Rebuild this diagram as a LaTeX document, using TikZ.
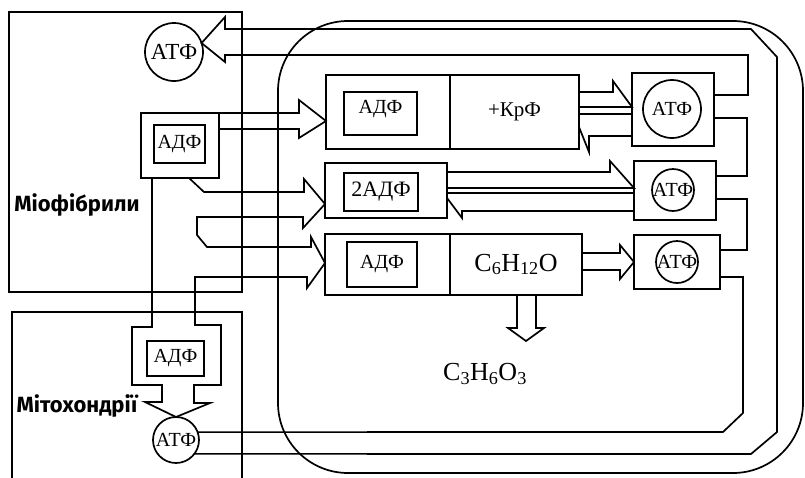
\documentclass[tikz,border=0pt]{standalone}
\usepackage{fontspec}
\setmainfont{Liberation Serif}
\newfontfamily\lblfont{Fira Sans}
\usetikzlibrary{positioning}

\begin{document}
\begin{tikzpicture}[
    x=1pt, y=-1pt,
    line width=1.7pt,
    box/.style={draw, rectangle, inner sep=0pt, outer sep=0pt,
                font=\fontsize{20}{22}\selectfont},
    ring/.style={draw, circle, inner sep=0pt, outer sep=0pt,
                 font=\fontsize{20}{22}\selectfont},
    lbl/.style={font=\lblfont\bfseries\fontsize{22}{24}\selectfont},
    chem/.style={font=\fontsize{26}{28}\selectfont}
]
\clip (0,0) rectangle (805,477);

% cell outline
\node[box, rounded corners=70pt, minimum width=525pt, minimum height=452pt]
    (cell) at (540.5,247) {};

% left part
\node[box, minimum width=233pt, minimum height=280pt] (myo) at (125.5,152) {};
\node[box, minimum width=230pt, minimum height=188pt] (mito) at (127,406) {};
\node[lbl] (myoLbl) at (77,205) {Міофібрили};
\node[lbl] (mitoLbl) at (77,406) {Мітохондрії};

\node[ring, minimum size=58pt, font=\fontsize{23}{24}\selectfont]
    (atfT) at (174,52) {\makebox[0pt]{АТФ}};
\node[box, minimum width=78pt, minimum height=65pt] (adfO) at (180,145.5) {};
\node[box, minimum width=51pt, minimum height=38pt] (adfL) at (179.5,144) {АДФ};
\node[box, minimum width=57pt, minimum height=35pt] (mitoAdf) at (175.5,358.5) {АДФ};
\node[ring, minimum size=46pt] (atfB) at (176,440) {\makebox[0pt]{АТФ}};

% middle boxes
\node[box, minimum width=124pt, minimum height=74pt] (rAl) at (388,112) {};
\node[box, minimum width=129pt, minimum height=74pt, font=\fontsize{21}{22}\selectfont]
    (rAr) at (514.5,112) {+КрФ};
\node[box, minimum width=73pt, minimum height=43pt, text height=12pt, text depth=13pt]
    (adfA) at (380.5,113.5) {АДФ};
\node[box, minimum width=122pt, minimum height=55pt] (rB) at (386,190.5) {};
\node[box, minimum width=74pt, minimum height=38pt, font=\fontsize{22}{24}\selectfont]
    (adf2) at (381,192) {2АДФ};
\node[box, minimum width=125pt, minimum height=61pt] (rCl) at (387.5,264.5) {};
\node[box, minimum width=132pt, minimum height=61pt, font=\fontsize{26}{28}\selectfont]
    (rCr) at (516,264.5) {C\textsubscript{6}H\textsubscript{12}O};
\node[box, minimum width=70pt, minimum height=45pt] (adfC) at (382,264.5) {АДФ};
\node[chem] (lact) at (485,374) {C\textsubscript{3}H\textsubscript{6}O\textsubscript{3}};

% right boxes
\node[box, minimum width=82pt, minimum height=73pt] (box1) at (673,109.5) {};
\node[ring, minimum size=58pt] (atf1) at (672,109) {\makebox[0pt]{АТФ}};
\node[box, minimum width=82pt, minimum height=59pt] (box2) at (675,190.5) {};
\node[ring, minimum size=42pt] (atf2) at (673,190) {\makebox[0pt]{АТФ}};
\node[box, minimum width=86pt, minimum height=54pt] (box3) at (677,262) {};
\node[ring, minimum size=42pt] (atf3) at (677,262) {\makebox[0pt]{АТФ}};

% return loop to the top ATP
\draw (atfB.-37) -- (751,454) -- (777,432) -- (777,57) -- (751,29) -- (225,29)
    -- (225,17) -- (atfT.18) -- (225,62) -- (225,55) -- (748,55) -- (748,95)
    -- (box1.east |- 0,95);
\draw (box1.east |- 0,118) -- (747,118) -- (747,176) -- (box2.east |- 0,176);
\draw (box2.east |- 0,199) -- (747,199) -- (747,250) -- (box3.east |- 0,250);
\draw (box3.east |- 0,277) -- (743,277) -- (743,413) -- (723,432) -- (atfB.20);

% ADP to the three reactions and to mitochondria
\draw (adfO.north west) -- (299,113) -- (299,100) -- (rAl.west |- 0,121)
    -- (299,138) -- (299,129) -- (adfO.east |- 0,129);
\draw (adfO.south -| 189,0) -- (204,192) -- (304,192) -- (304,179)
    -- (rB.west |- 0,204) -- (303,228) -- (303,217) -- (197,217) -- (197,235)
    -- (207,247) -- (311,247) -- (311,237) -- (rCl.west |- 0,263) -- (307,288)
    -- (307,277) -- (195,277) -- (195,325) -- (221,325) -- (221,385) -- (194,385)
    -- (194,403) -- (210,403) -- (atfB.north) -- (145,402) -- (162,402)
    -- (162,385) -- (132,385) -- (132,327) -- (152,327) -- (adfO.south -| 152,0);

% reactions to ATP boxes
\draw (rAr.east |- 0,92) -- (613,92) -- (613,81) -- (box1.west |- 0,107)
    -- (rAr.east |- 0,107);
\draw (box1.west |- 0,114) -- (rAr.east |- 0,114);
\draw (box1.west |- 0,136) -- (589,136) -- (589,152) -- (rAr.east |- 0,127);
\draw (rB.east |- 0,172) -- (610,172) -- (610,161) -- (box2.west |- 0,188)
    -- (rB.east |- 0,188);
\draw (box2.west |- 0,193) -- (rB.east |- 0,193);
\draw (box2.west |- 0,211) -- (462,211) -- (462,218) -- (rB.east |- 0,198);
\draw (rCr.east |- 0,253) -- (620,253) -- (620,245) -- (box3.west |- 0,262)
    -- (620,279) -- (620,270) -- (rCr.east |- 0,270);

% glucose to lactate
\draw (rCr.south -| 517,0) -- (517,328) -- (508,328) -- (526,341) -- (544,328)
    -- (536,328) -- (rCr.south -| 536,0);
\end{tikzpicture}
\end{document}
